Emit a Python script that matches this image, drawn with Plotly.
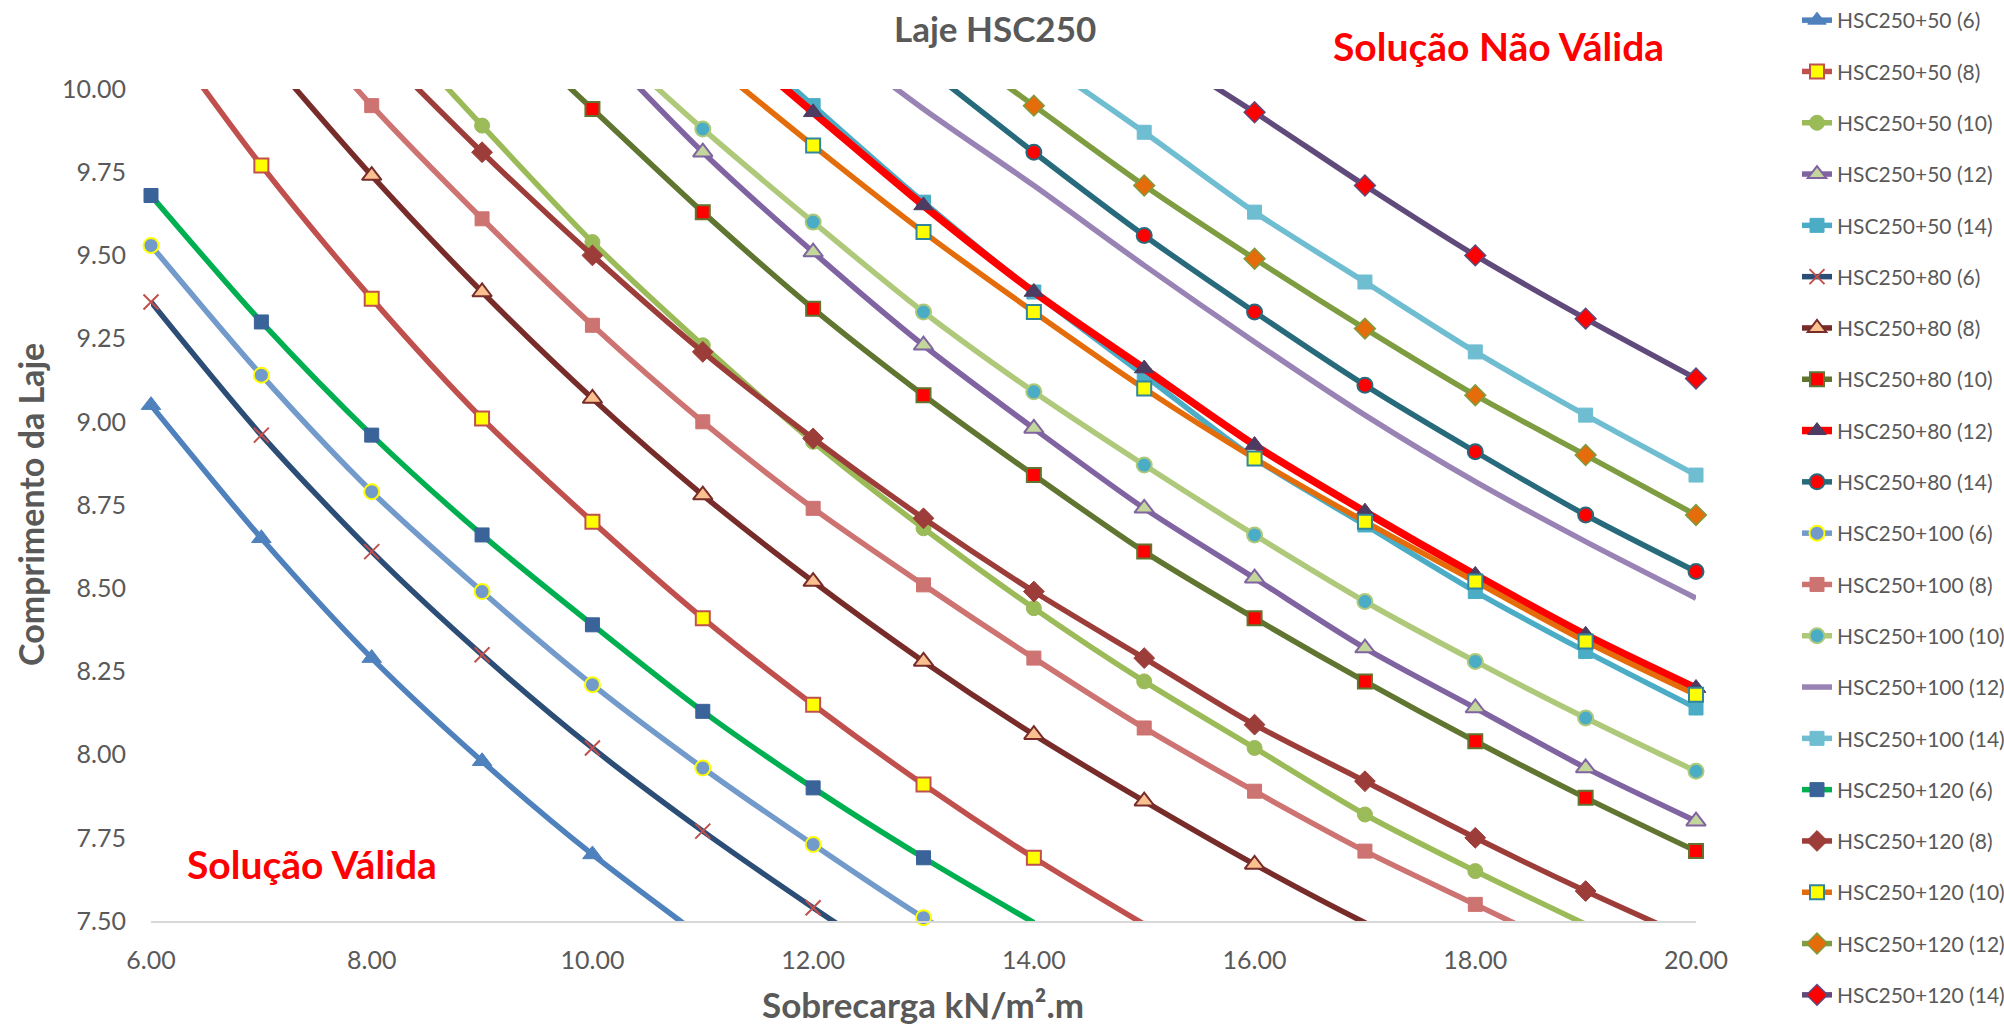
import plotly.graph_objects as go

# ---------------- data ----------------
LOAD = [6, 7, 8, 9, 10, 11, 12, 13, 14, 15, 16, 17, 18, 19, 20]
N = None

hsc50_6 = [9.05, 8.65, 8.29, 7.98, 7.70, 7.45, N, N, N, N, N, N, N, N, N]
hsc50_8 = [10.22, 9.77, 9.37, 9.01, 8.70, 8.41, 8.15, 7.91, 7.69, 7.49, N, N, N, N, N]
hsc50_10 = [N, N, 10.25, 9.89, 9.54, 9.23, 8.94, 8.68, 8.44, 8.22, 8.02, 7.82, 7.65, 7.49, N]
hsc50_12 = [N, N, N, N, 10.15, 9.81, 9.51, 9.23, 8.98, 8.74, 8.53, 8.32, 8.14, 7.96, 7.80]
hsc50_14 = [N, N, N, N, N, 10.25, 9.95, 9.66, 9.39, 9.14, 8.89, 8.69, 8.49, 8.31, 8.14]
hsc80_6 = [9.36, 8.96, 8.61, 8.30, 8.02, 7.77, 7.54, 7.32, N, N, N, N, N, N, N]
hsc80_8 = [N, 10.12, 9.74, 9.39, 9.07, 8.78, 8.52, 8.28, 8.06, 7.86, 7.67, 7.495, 7.34, N, N]
hsc80_10 = [N, N, N, 10.25, 9.94, 9.63, 9.34, 9.08, 8.84, 8.61, 8.41, 8.22, 8.04, 7.87, 7.71]
hsc80_12 = [N, N, N, N, N, 10.21, 9.93, 9.65, 9.39, 9.16, 8.93, 8.73, 8.54, 8.36, 8.20]
hsc80_14 = [N, N, N, N, N, N, N, 10.07, 9.81, 9.56, 9.33, 9.11, 8.91, 8.72, 8.55]
hsc100_6 = [9.53, 9.14, 8.79, 8.49, 8.21, 7.96, 7.73, 7.51, 7.32, N, N, N, N, N, N]
hsc100_8 = [N, 10.33, 9.95, 9.61, 9.29, 9.00, 8.74, 8.51, 8.29, 8.08, 7.89, 7.71, 7.55, 7.39, N]
hsc100_10 = [N, N, N, N, 10.18, 9.88, 9.60, 9.33, 9.09, 8.87, 8.66, 8.46, 8.28, 8.11, 7.95]
hsc100_12 = [N, N, N, N, N, N, 10.19, 9.94, 9.71, 9.47, 9.24, 9.02, 8.82, 8.64, 8.47]
hsc100_14 = [N, N, N, N, N, N, N, N, 10.10, 9.87, 9.63, 9.42, 9.21, 9.02, 8.84]
hsc120_6 = [9.68, 9.30, 8.96, 8.66, 8.39, 8.13, 7.90, 7.69, 7.495, N, N, N, N, N, N]
hsc120_8 = [N, N, 10.14, 9.81, 9.50, 9.21, 8.95, 8.71, 8.49, 8.29, 8.09, 7.92, 7.75, 7.59, 7.44]
hsc120_10 = [N, N, N, N, N, 10.10, 9.83, 9.57, 9.33, 9.10, 8.89, 8.70, 8.52, 8.34, 8.18]
hsc120_12 = [N, N, N, N, N, N, N, 10.19, 9.95, 9.71, 9.49, 9.28, 9.08, 8.90, 8.72]
hsc120_14 = [N, N, N, N, N, N, N, N, N, 10.14, 9.93, 9.71, 9.50, 9.31, 9.13]

X_TICKS = [6, 8, 10, 12, 14, 16, 18, 20]
Y_TICKS = [7.5, 7.75, 8.0, 8.25, 8.5, 8.75, 9.0, 9.25, 9.5, 9.75, 10.0]
Y_MIN, Y_MAX = 7.5, 10.0

# (name, values, line colour, line width, symbol, fill, edge colour, edge width)
SERIES = [
    ("HSC250+50 (6)", hsc50_6, "#4F81BD", 5.5, "triangle-up", "#4F81BD", "#4F81BD", 1),
    ("HSC250+50 (8)", hsc50_8, "#C0504D", 5.5, "square", "#FFFF00", "#C0504D", 2),
    ("HSC250+50 (10)", hsc50_10, "#9BBB59", 5.5, "circle", "#9BBB59", "#9BBB59", 1),
    ("HSC250+50 (12)", hsc50_12, "#8064A2", 5.5, "triangle-up", "#C3D69B", "#8064A2", 2),
    ("HSC250+50 (14)", hsc50_14, "#4BACC6", 5.5, "square", "#4BACC6", "#4BACC6", 1),
    ("HSC250+80 (6)", hsc80_6, "#2C4D75", 5.5, "x-thin", "#C0504D", "#C0504D", 2),
    ("HSC250+80 (8)", hsc80_8, "#772C2A", 5.5, "triangle-up", "#FAC090", "#772C2A", 2),
    ("HSC250+80 (10)", hsc80_10, "#5F7530", 5.5, "square", "#FF0000", "#5F7530", 2),
    ("HSC250+80 (12)", hsc80_12, "#FF0000", 7.5, "triangle-up", "#4D3B62", "#4D3B62", 1),
    ("HSC250+80 (14)", hsc80_14, "#276A7C", 5.5, "circle", "#FF0000", "#276A7C", 2),
    ("HSC250+100 (6)", hsc100_6, "#729ACA", 5.5, "circle", "#729ACA", "#FFFF00", 2),
    ("HSC250+100 (8)", hsc100_8, "#CD7371", 5.5, "square", "#CD7371", "#CD7371", 1),
    ("HSC250+100 (10)", hsc100_10, "#AFC97A", 5.5, "circle", "#4BACC6", "#AFC97A", 2),
    ("HSC250+100 (12)", hsc100_12, "#9983B5", 5.5, None, None, None, 0),
    ("HSC250+100 (14)", hsc100_14, "#6FBDD1", 5.5, "square", "#6FBDD1", "#6FBDD1", 1),
    ("HSC250+120 (6)", hsc120_6, "#00B050", 5.5, "square", "#3A6399", "#3A6399", 1),
    ("HSC250+120 (8)", hsc120_8, "#9C3D3A", 5.5, "diamond", "#9C3D3A", "#9C3D3A", 1),
    ("HSC250+120 (10)", hsc120_10, "#E46C0A", 5.5, "square", "#FFFF00", "#31859C", 2),
    ("HSC250+120 (12)", hsc120_12, "#7E9C40", 5.5, "diamond", "#E46C0A", "#7E9C40", 1.5),
    ("HSC250+120 (14)", hsc120_14, "#604A7B", 5.5, "diamond", "#FF0000", "#604A7B", 1.5),
]

FONT = "Lato, 'Open Sans', sans-serif"
GREY = "#595959"
SIZES = {"triangle-up": 17, "square": 14, "circle": 15, "diamond": 16, "x-thin": 15}

# ---------------- layout geometry (pixels) ----------------
W, H = 2004, 1027
L, R, T, B = 151, 308, 89, 106
PW, PH = W - L - R, H - T - B


def px(xp):
    return (xp - L) / PW


def py(yp):
    return (H - B - yp) / PH


def make_marker(sym, fill, edge, ew, opac=None):
    m = dict(symbol=sym, size=SIZES[sym], color=fill, line=dict(color=edge, width=ew))
    if opac is not None:
        m["opacity"] = opac
    return m


fig = go.Figure()

for name, vals, lc, lw, sym, fill, edge, ew in SERIES:
    if sym is None:
        mode, marker = "lines", None
    else:
        mode = "lines+markers"
        opac = [1 if (v is not None and Y_MIN - 1e-9 <= v <= Y_MAX + 1e-9) else 0 for v in vals]
        marker = make_marker(sym, fill, edge, ew, opac)
    fig.add_trace(go.Scatter(
        x=LOAD, y=vals, name=name, mode=mode,
        line=dict(color=lc, width=lw, shape="spline", smoothing=0.8),
        marker=marker, cliponaxis=False, showlegend=False,
        legendgroup=name, hoverinfo="x+y+name",
    ))

# legend entries (no data drawn)
for name, vals, lc, lw, sym, fill, edge, ew in SERIES:
    if sym is None:
        mode, marker = "lines", None
    else:
        mode = "lines+markers"
        marker = make_marker(sym, fill, edge, ew)
    fig.add_trace(go.Scatter(
        x=[None], y=[None], name=name, mode=mode,
        line=dict(color=lc, width=lw), marker=marker,
        legendgroup=name, showlegend=True,
    ))

fig.update_layout(
    width=W, height=H,
    margin=dict(l=L, r=R, t=T, b=B, autoexpand=False),
    paper_bgcolor="white", plot_bgcolor="white",
    font=dict(family=FONT, color=GREY, size=25),
    showlegend=True,
    legend=dict(
        x=px(1797), xanchor="left", y=py(0), yanchor="top",
        font=dict(family=FONT, size=21, color=GREY),
        tracegroupgap=21, bgcolor="rgba(0,0,0,0)",
        itemwidth=30, maxheight=1.0,
    ),
    xaxis=dict(
        range=[6, 20], tickvals=X_TICKS, tickformat=".2f",
        showgrid=False, zeroline=False, showline=True,
        linecolor="#D9D9D9", linewidth=2, ticks="",
        tickfont=dict(size=25, color=GREY, family=FONT),
        ticklabelstandoff=16,
    ),
    yaxis=dict(
        range=[Y_MIN, Y_MAX], tickvals=Y_TICKS, tickformat=".2f",
        showgrid=False, zeroline=False, showline=False, ticks="",
        tickfont=dict(size=25, color=GREY, family=FONT),
        ticklabelstandoff=24,
    ),
    annotations=[
        dict(text="<b>Laje HSC250</b>", x=px(995), y=py(28), xref="paper", yref="paper",
             showarrow=False, font=dict(size=35, color=GREY, family=FONT),
             xanchor="center", yanchor="middle"),
        dict(text="<b>Sobrecarga kN/m².m</b>", x=px(923), y=py(1004), xref="paper", yref="paper",
             showarrow=False, font=dict(size=35, color=GREY, family=FONT),
             xanchor="center", yanchor="middle"),
        dict(text="<b>Comprimento da Laje</b>", x=px(30), y=py(505), xref="paper", yref="paper",
             showarrow=False, textangle=-90, font=dict(size=34, color=GREY, family=FONT),
             xanchor="center", yanchor="middle"),
        dict(text="<b>Solução Não Válida</b>", x=px(1498), y=py(46), xref="paper", yref="paper",
             showarrow=False, font=dict(size=39, color="#FF0000", family=FONT),
             xanchor="center", yanchor="middle"),
        dict(text="<b>Solução Válida</b>", x=px(312), y=py(864), xref="paper", yref="paper",
             showarrow=False, font=dict(size=39, color="#FF0000", family=FONT),
             xanchor="center", yanchor="middle"),
    ],
)

fig.write_html(
    "out.html",
    config={"displayModeBar": False},
    post_script="document.body.style.margin='0';document.body.style.overflow='hidden';",
)
